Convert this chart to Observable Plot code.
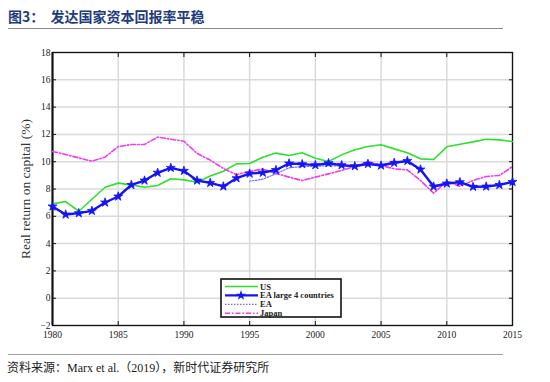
<!DOCTYPE html>
<html><head><meta charset="utf-8">
<script src="https://cdn.jsdelivr.net/npm/d3@7"></script>
<script src="https://cdn.jsdelivr.net/npm/@observablehq/plot@0.6"></script>
<style>
body{margin:0;background:#fff;}
#wrap{position:relative;width:550px;height:382px;overflow:hidden;background:#fff;}
#title{position:absolute;left:8px;top:6px;font-family:"Noto Sans CJK SC",sans-serif;font-weight:bold;font-size:14px;color:#1f3c7c;line-height:20px;white-space:nowrap;}
#tline{position:absolute;left:8px;top:28px;width:495px;height:0;border-top:1.5px solid #8c8c8c;}
#chart{position:absolute;left:0;top:30px;}
#legend{position:absolute;left:220px;top:278px;}
#bline{position:absolute;left:8px;top:354px;width:495px;height:0;border-top:1.5px solid #a0a0a0;}
#source{position:absolute;left:7px;top:361px;font-family:"Liberation Serif","Noto Sans CJK SC",serif;font-size:12px;color:#222;white-space:nowrap;line-height:14px;}
</style></head>
<body><div id="wrap">
<div id="title">图3：&nbsp;&nbsp;发达国家资本回报率平稳</div>
<div id="tline"></div>
<div id="chart"></div>
<div id="legend"></div>
<div id="bline"></div>
<div id="source">资料来源：Marx et al.（2019），新时代证券研究所</div>
</div>
<script>
const years = [1980,1981,1982,1983,1984,1985,1986,1987,1988,1989,1990,1991,1992,1993,1994,1995,1996,1997,1998,1999,2000,2001,2002,2003,2004,2005,2006,2007,2008,2009,2010,2011,2012,2013,2014,2015];
const us = [6.91,7.08,6.37,7.25,8.13,8.43,8.3,8.13,8.26,8.75,8.67,8.5,8.95,9.3,9.84,9.87,10.32,10.63,10.45,10.65,10.26,10.01,10.5,10.87,11.11,11.24,10.94,10.65,10.21,10.16,11.09,11.28,11.45,11.65,11.6,11.48];
const eaLarge4 = [6.72,6.13,6.23,6.4,7.01,7.45,8.3,8.62,9.19,9.55,9.33,8.62,8.45,8.19,8.79,9.13,9.2,9.39,9.87,9.82,9.75,9.89,9.75,9.67,9.84,9.72,9.92,10.06,9.43,8.18,8.4,8.5,8.16,8.18,8.3,8.52];
const japan = [10.75,10.53,10.28,10.04,10.33,11.11,11.26,11.26,11.8,11.65,11.5,10.6,10.12,9.5,9.05,9.3,9.46,9.14,8.87,8.62,8.87,9.11,9.36,9.65,10.01,9.72,9.48,9.4,8.62,7.69,8.57,8.2,8.62,8.92,8.99,9.65];
const eaYears = [1995,1996,1997,1998,1999,2000,2001,2002,2003,2004,2005,2006,2007,2008,2009,2010,2011,2012,2013,2014,2015];
const ea = [8.57,8.72,9.11,9.55,9.65,9.65,9.72,9.67,9.67,9.8,9.7,9.88,10.0,9.4,8.15,8.38,8.47,8.14,8.16,8.28,8.5];
const xTicks = [1980,1985,1990,1995,2000,2005,2010,2015];
const yTicks = [-2,0,2,4,6,8,10,12,14,16,18];
const yLabel = "Real return on capital (%)";
const seriesNames = ["US","EA large 4 countries","EA","Japan"];
const colors = {US:"#2ee02e", EA4:"#1414f5", EA:"#6b6bff", Japan:"#f03cf0"};

const rows = (xs, vs) => xs.map((x,i)=>({year:x, value:vs[i]}));
const usRows = rows(years, us), ea4Rows = rows(years, eaLarge4), jpRows = rows(years, japan), eaRows = rows(eaYears, ea);

const chart = Plot.plot({
  width:550, height:320,
  marginLeft:52, marginRight:38, marginTop:22, marginBottom:25,
  x:{domain:[1980,2015]},
  y:{domain:[-2,18]},
  style:{fontFamily:"Liberation Serif, serif", fontSize:"9.5px", color:"#222", background:"transparent"},
  marks:[
    Plot.gridX(xTicks,{stroke:"#dadada",strokeOpacity:1,strokeWidth:1.5}),
    Plot.gridY(yTicks,{stroke:"#dadada",strokeOpacity:1,strokeWidth:1.5}),
    Plot.axisX(xTicks,{anchor:"bottom",tickSize:-4,tickPadding:10,tickFormat:d=>String(d),label:null,stroke:"#111"}),
    Plot.axisX(xTicks,{anchor:"top",tickSize:-4,tickFormat:()=>"",label:null,stroke:"#111"}),
    Plot.axisY(yTicks,{anchor:"left",tickSize:-4,tickPadding:6,label:null,stroke:"#111"}),
    Plot.axisY(yTicks,{anchor:"right",tickSize:-4,tickFormat:()=>"",label:null,stroke:"#111"}),
    Plot.frame({stroke:"#111",strokeWidth:1.3}),
    Plot.ruleX([1980],{stroke:"#111",strokeWidth:2}),
    Plot.text([yLabel],{text:d=>d,frameAnchor:"left",textAnchor:"middle",dx:-27,rotate:-90,fontSize:13.5,fill:"#333"}),
    Plot.line(usRows,{x:"year",y:"value",stroke:colors.US,strokeWidth:1.6}),
    Plot.line(jpRows,{x:"year",y:"value",stroke:colors.Japan,strokeWidth:1.6,strokeDasharray:"5,2,1.5,2"}),
    Plot.line(eaRows,{x:"year",y:"value",stroke:colors.EA,strokeWidth:1.2,strokeDasharray:"1.5,1.5"}),
    Plot.line(ea4Rows,{x:"year",y:"value",stroke:colors.EA4,strokeWidth:2.4}),
    Plot.dot(ea4Rows,{x:"year",y:"value",symbol:"star",r:2.8,fill:colors.EA4,stroke:colors.EA4,strokeWidth:0.8})
  ]
});
document.getElementById("chart").appendChild(chart);

// legend
const styles = [
  {stroke:colors.US,w:1.6,dash:null,star:false},
  {stroke:colors.EA4,w:2.4,dash:null,star:true},
  {stroke:colors.EA,w:1.2,dash:"1.5,1.5",star:false},
  {stroke:colors.Japan,w:1.6,dash:"5,2,1.5,2",star:false}
];
const lg = d3.select("#legend").append("svg").attr("width",124).attr("height",42);
lg.append("rect").attr("x",1).attr("y",1).attr("width",120).attr("height",38).attr("fill","#fff").attr("stroke","#111").attr("stroke-width",1.6);
const star = d3.symbol(d3.symbolStar, 32)();
seriesNames.forEach((name,i)=>{
  const y = 8.5 + i*8.9;
  const s = styles[i];
  const l = lg.append("line").attr("x1",5).attr("x2",38).attr("y1",y).attr("y2",y).attr("stroke",s.stroke).attr("stroke-width",s.w);
  if (s.dash) l.attr("stroke-dasharray",s.dash);
  if (s.star) lg.append("path").attr("d",star).attr("transform",`translate(21,${y})`).attr("fill",s.stroke);
  lg.append("text").attr("x",40).attr("y",y+3).attr("font-family","Liberation Serif, serif").attr("font-size",8.5).attr("font-weight","bold").attr("fill","#222").text(name);
});
</script>
</body></html>
